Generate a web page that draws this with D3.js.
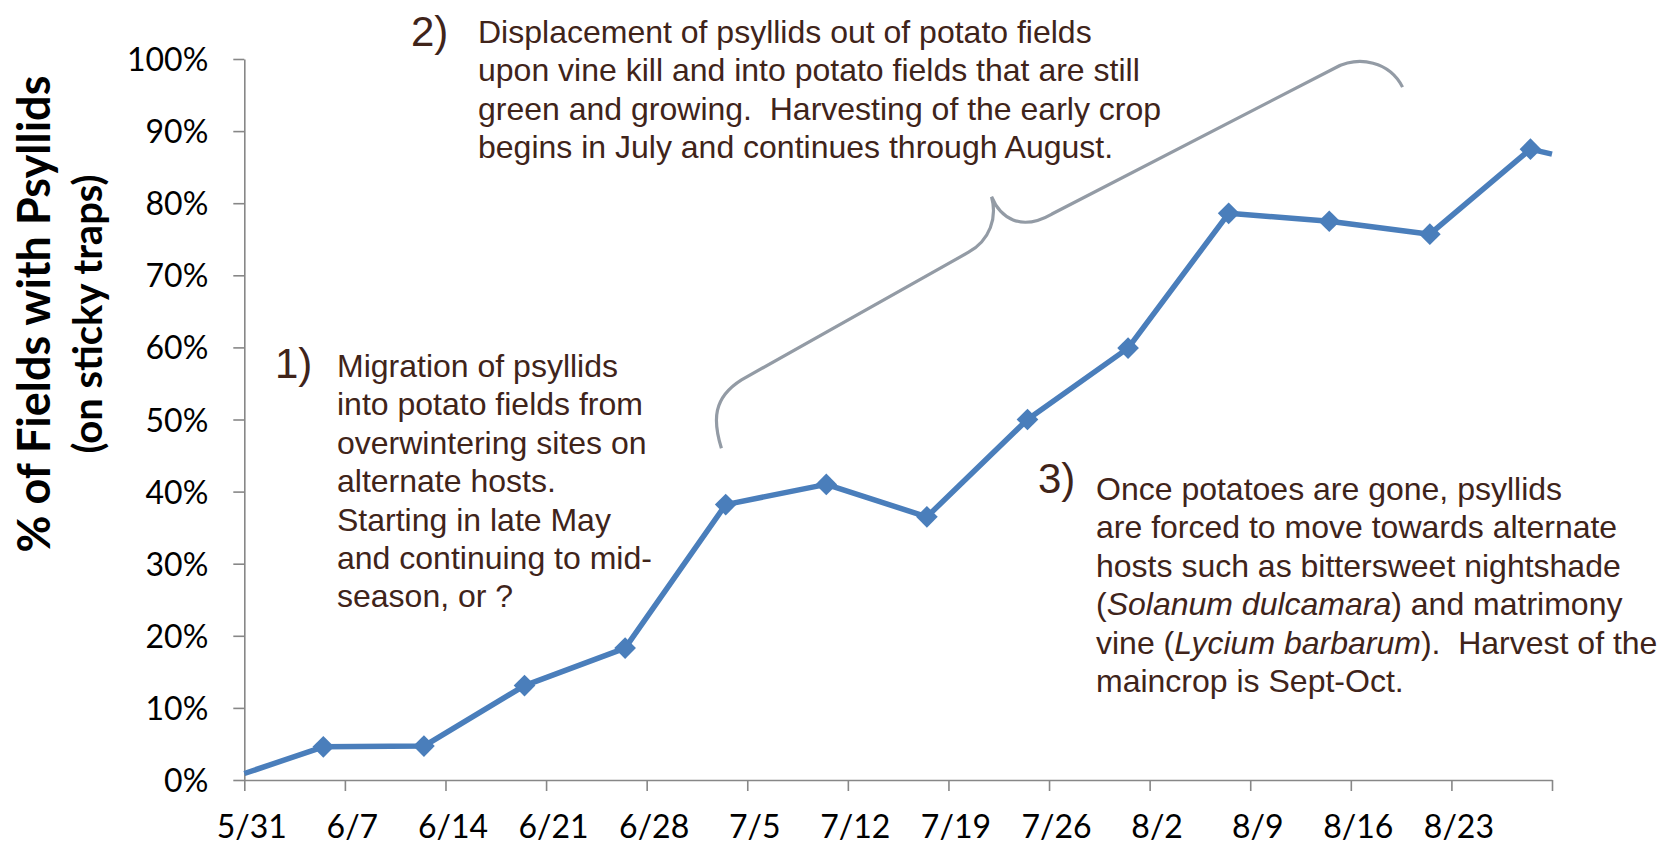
<!DOCTYPE html>
<html>
<head>
<meta charset="utf-8">
<script src="https://cdn.jsdelivr.net/npm/d3@7"></script>
<style>
  body { margin: 0; background: #fff; }
  .note { font-family: "Liberation Sans", Arial, sans-serif; fill: #40241a; white-space: pre; }
  .tick text { font-family: Lato, "Noto Sans", sans-serif; fill: #000; }
</style>
</head>
<body>
<svg id="chart"></svg>
<script>
var W = 1673, H = 847;

// days after 5/31 and % of fields with psyllids (first/last are where the line meets the plot edge)
var days = [0, 5.5, 12.5, 19.5, 26.5, 33.5, 40.5, 47.5, 54.5, 61.5, 68.5, 75.5, 82.5, 89.5, 91];
var pctFields = [0.009, 0.046, 0.047, 0.131, 0.183, 0.382, 0.410, 0.365, 0.500, 0.599, 0.786, 0.775, 0.757, 0.875, 0.868];

var tickDays = [0, 7, 14, 21, 28, 35, 42, 49, 56, 63, 70, 77, 84, 91];
var tickLabels = ["5/31", "6/7", "6/14", "6/21", "6/28", "7/5", "7/12", "7/19", "7/26", "8/2", "8/9", "8/16", "8/23", ""];
var yTicks = [0, 0.1, 0.2, 0.3, 0.4, 0.5, 0.6, 0.7, 0.8, 0.9, 1.0];

var note1 = ["Migration of psyllids", "into potato fields from", "overwintering sites on", "alternate hosts.",
  "Starting in late May", "and continuing to mid-", "season, or ?"];
var note2 = ["Displacement of psyllids out of potato fields", "upon vine kill and into potato fields that are still",
  "green and growing.  Harvesting of the early crop", "begins in July and continues through August."];
var note3 = [
  [["Once potatoes are gone, psyllids", 0]],
  [["are forced to move towards alternate", 0]],
  [["hosts such as bittersweet nightshade", 0]],
  [["(", 0], ["Solanum dulcamara", 1], [") and matrimony", 0]],
  [["vine (", 0], ["Lycium barbarum", 1], [").  Harvest of the", 0]],
  [["maincrop is Sept-Oct.", 0]]
];

// brace drawn in chart units [day, share]
var brace = [[33.2, 0.46], [32.6, 0.499], [32.6, 0.53], [34.6, 0.555], [50.4, 0.732], [51.9, 0.749], [52.4, 0.78],
  [52.0, 0.809], [52.6, 0.78], [54.0, 0.76], [56.2, 0.785], [75.9, 0.9875], [77.6, 1.0055], [79.7, 0.996], [80.6, 0.961]];

var svg = d3.select("#chart").attr("width", W).attr("height", H);

var x = d3.scaleLinear().domain([0, 91]).range([244.3, 1552]);
var y = d3.scaleLinear().domain([0, 1]).range([780, 59]);

// axes
var yAxis = svg.append("g")
  .attr("transform", "translate(" + x(0) + ",0)")
  .call(d3.axisLeft(y).tickValues(yTicks).tickFormat(d3.format(".0%")).tickSize(11).tickPadding(25).tickSizeOuter(0));
var xAxis = svg.append("g")
  .attr("transform", "translate(0," + y(0) + ")")
  .call(d3.axisBottom(x).tickValues(tickDays).tickFormat(function(d, i) { return tickLabels[i]; })
    .tickSize(11).tickSizeOuter(0));

svg.selectAll(".domain, .tick line").attr("stroke", "#878787").attr("stroke-width", 1.6);
yAxis.selectAll("text").attr("font-size", 32).attr("dy", "0.36em");
xAxis.selectAll("text").attr("font-size", 32).attr("y", 58).attr("dy", 0).attr("dx", 7);

// axis title
var title = svg.append("text")
  .attr("transform", "translate(50,314) rotate(-90)")
  .attr("text-anchor", "middle")
  .style("font-family", "Lato, 'Noto Sans', sans-serif")
  .style("font-weight", "bold")
  .attr("font-size", 45);
title.append("tspan").attr("x", 0).attr("y", 0).text("% of Fields with Psyllids");
title.append("tspan").attr("x", 0).attr("y", 52).attr("font-size", 40).text("(on sticky traps)");

// brace
var braceLine = d3.line().x(function(d) { return x(d[0]); }).y(function(d) { return y(d[1]); });
var bp = brace.map(function(d) { return [x(d[0]), y(d[1])]; });
var pathStr = "M" + bp[0] + "C" + bp[1] + " " + bp[2] + " " + bp[3] + "L" + bp[4] +
  "C" + bp[5] + " " + bp[6] + " " + bp[7] + "C" + bp[8] + " " + bp[9] + " " + bp[10] + "L" + bp[11] +
  "C" + bp[12] + " " + bp[13] + " " + bp[14];
svg.append("path").attr("d", pathStr).attr("fill", "none").attr("stroke", "#939ba5").attr("stroke-width", 3.2);

// series
var pts = days.map(function(d, i) { return [d, pctFields[i]]; });
svg.append("path")
  .datum(pts)
  .attr("fill", "none")
  .attr("stroke", "#4a7ebb")
  .attr("stroke-width", 5.5)
  .attr("stroke-linejoin", "round")
  .attr("d", braceLine);

svg.selectAll(".marker")
  .data(pts.slice(1, -1))
  .join("path")
  .attr("class", "marker")
  .attr("d", d3.symbol(d3.symbolSquare, 235))
  .attr("fill", "#4a7ebb")
  .attr("transform", function(d) { return "translate(" + x(d[0]) + "," + y(d[1]) + ") rotate(45)"; });

// notes
function addNote(num, nx, ny, lines, tx, ty) {
  svg.append("text").attr("class", "note").attr("x", nx).attr("y", ny).attr("font-size", 42).text(num);
  var t = svg.append("text").attr("class", "note").attr("font-size", 32);
  lines.forEach(function(line, i) {
    var segs = typeof line === "string" ? [[line, 0]] : line;
    segs.forEach(function(s, j) {
      var sp = t.append("tspan").text(s[0]);
      if (j === 0) sp.attr("x", tx).attr("y", ty + i * 38.4);
      if (s[1]) sp.style("font-style", "italic");
    });
  });
}
addNote("1)", 275, 378, note1, 337, 377);
addNote("2)", 411, 46, note2, 478, 43);
addNote("3)", 1038, 493, note3, 1096, 500);
</script>
</body>
</html>
